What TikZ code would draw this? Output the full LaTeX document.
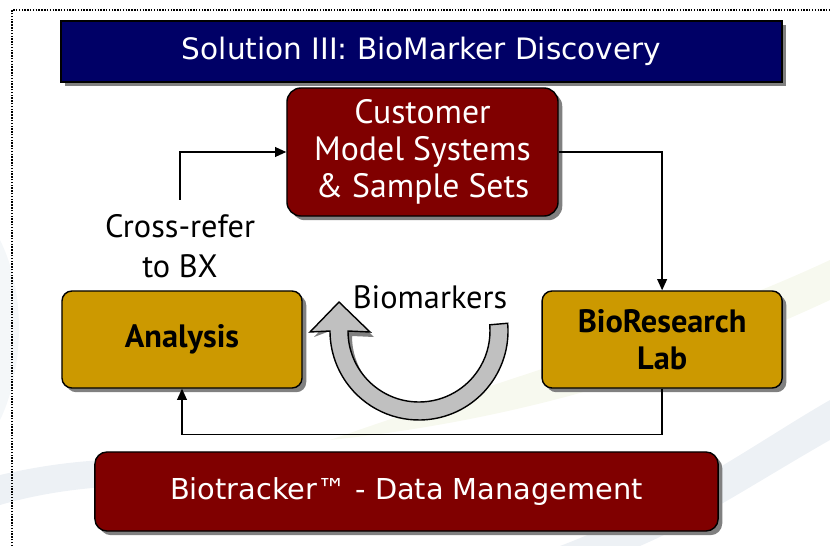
\documentclass[tikz,border=0pt]{standalone}
\usepackage{fontspec}
\setmainfont{PT Sans}
\newfontfamily\headfont{DejaVu Sans}
\usetikzlibrary{arrows.meta,positioning,shadows}

\definecolor{titleblue}{HTML}{000066}
\definecolor{boxred}{HTML}{800000}
\definecolor{boxgold}{HTML}{CC9900}
\definecolor{arrowgray}{HTML}{C0C0C0}
\definecolor{shadowgray}{HTML}{808080}
\definecolor{swooshblue}{HTML}{B8C8D8}
\definecolor{swooshgreen}{HTML}{D8E0B0}

\begin{document}
\begin{tikzpicture}[%
    x=0.025cm, y=-0.025cm,
    >={Triangle[length=8pt,width=7pt]},
    node distance=12cm,
    on grid,
    shade/.style={drop shadow={shadow xshift=3pt, shadow yshift=-3pt,
        fill=shadowgray, opacity=1}},
    titlebox/.style={draw=black, line width=1pt, fill=titleblue, text=white,
        minimum width=18.025cm, minimum height=1.525cm, shade,
        font=\headfont\fontsize{21}{25}\selectfont},
    redbox/.style={draw=black, line width=1pt, fill=boxred, text=white,
        rounded corners=0.35cm, align=center, shade},
    goldbox/.style={draw=black, line width=1pt, fill=boxgold, text=black,
        rounded corners=0.25cm, align=center, shade,
        minimum width=6cm, minimum height=2.425cm,
        font=\fontsize{23}{26}\selectfont\bfseries},
    plain/.style={align=center, font=\fontsize{23}{28}\selectfont},
    link/.style={line width=1pt, draw=black}
  ]
    \useasboundingbox (0,0) rectangle (830,546);

    % faint background swooshes
    \begin{scope}
      \clip (0,0) rectangle (830,546);
      \fill[swooshblue, opacity=0.25] (0,475) .. controls (150,440) and (260,470) .. (380,500)
        .. controls (250,490) and (120,470) .. (0,505) -- cycle;
      \fill[swooshgreen, opacity=0.2] (330,440) .. controls (500,380) and (680,330) .. (830,260)
        -- (830,300) .. controls (680,370) and (520,420) .. (330,440) -- cycle;
      \fill[swooshblue, opacity=0.25] (560,546) .. controls (680,500) and (760,440) .. (830,400)
        -- (830,440) .. controls (760,480) and (700,520) .. (640,546) -- cycle;
      \fill[swooshblue, opacity=0.15] (0,240) .. controls (30,300) and (20,380) .. (0,420) -- cycle;
    \end{scope}

    \draw[black, line width=1pt, densely dotted] (12,546) -- (12,10) -- (830,10);

    \node[titlebox] (title) at (421.5,51.5) {Solution III: BioMarker Discovery};

    \node[plain, fill=white, rounded corners=0.15cm, minimum width=5.9cm,
          minimum height=2.3cm] (xref) at (180,246) {Cross-refer\\to BX};

    \node[redbox, minimum width=6.775cm, minimum height=3.2cm,
          font=\fontsize{24}{26.5}\selectfont] (cust) at (422.5,152)
          {Customer\\Model Systems\\\& Sample Sets};

    \node[goldbox] (ana) at (182,339.5) {Analysis};
    \node[goldbox] (lab) [right=of ana] {BioResearch\\Lab};

    \node[redbox, rounded corners=0.3cm, minimum width=15.575cm, minimum height=1.975cm,
          font=\headfont\fontsize{20.5}{25}\selectfont] (track) at (406.5,491.5)
          {Biotracker™ - Data Management};

    % biomarkers loop arrow
    \coordinate (loop) at (419,331);
    \fill[shadowgray, shift={(4,5)}] (loop) ++(-5:89) arc[start angle=-5, end angle=180, radius=89]
      -- (310,332) -- (339,302) -- (370,332) -- (348,331)
      arc[start angle=180, end angle=-5, radius=71] -- cycle;
    \filldraw[fill=arrowgray, draw=black, line width=1pt] (loop) ++(-5:89)
      arc[start angle=-5, end angle=180, radius=89]
      -- (310,332) -- (339,302) -- (370,332) -- (348,331)
      arc[start angle=180, end angle=-5, radius=71] -- cycle;
    \node[plain] (bm) at (430,297) {Biomarkers};

    \draw[link, ->] (xref.north) |- (cust.west);
    \draw[link, ->] (cust.east) -| (lab.north);
    \draw[link, ->] (lab.south) -- ++(0,46) -| (ana.south);
  \end{tikzpicture}
\end{document}
